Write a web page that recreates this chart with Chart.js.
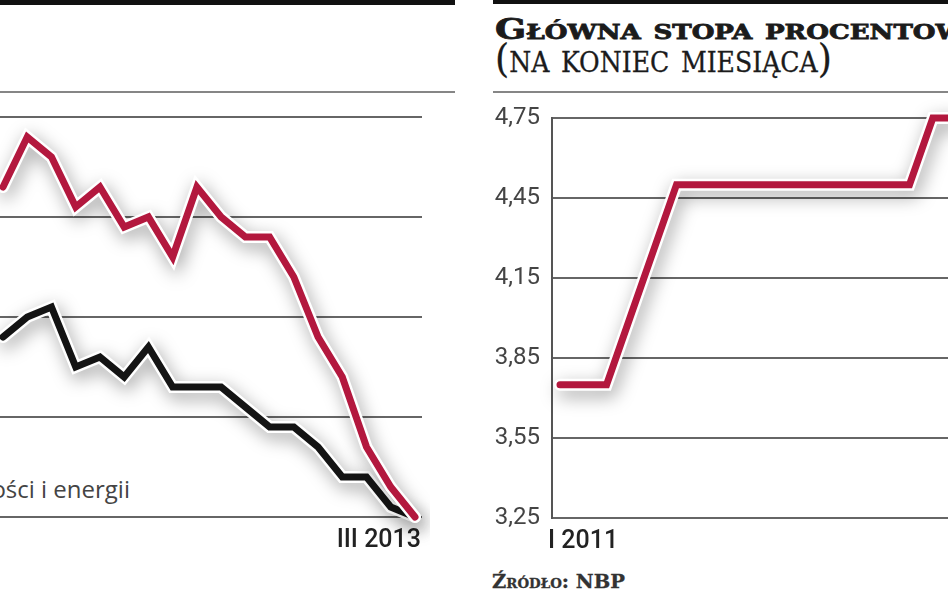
<!DOCTYPE html>
<html lang="pl">
<head>
<meta charset="utf-8">
<title>Inflacja i główna stopa procentowa</title>
<script src="https://cdn.jsdelivr.net/npm/chart.js@4.4.1/dist/chart.umd.min.js"></script>
<style>
  html, body { margin: 0; padding: 0; background: #fff; }
  body { position: relative; width: 948px; height: 593px; overflow: hidden; }
  .bar { position: absolute; top: 0; height: 5px; background: #111; }
  .rule { position: absolute; top: 91px; height: 2px; background: #868686; }
  canvas { position: absolute; }
  .serif { position: absolute; left: 495px; white-space: nowrap; line-height: 1;
           font-family: "DejaVu Serif", "Liberation Serif", serif; font-variant: small-caps;
           color: #1b1b1b; transform-origin: 0 0; }
  #t1 { top: 16px; font-size: 28px; font-weight: bold; -webkit-text-stroke: 0.8px #1b1b1b; }
  #t2 { top: 39px; font-size: 39px; font-weight: normal; -webkit-text-stroke: 0.3px #1b1b1b; }
  #src { left: 492px; top: 572px; font-size: 19px; font-weight: bold; color: #333; -webkit-text-stroke: 0.3px #333; }
  #legend { position: absolute; right: 818px; top: 477px; white-space: nowrap; line-height: 1;
            font-family: "Open Sans", "Noto Sans", sans-serif; font-size: 24px; color: #444; }
</style>
</head>
<body>
<div class="bar" style="left:0; width:455px;"></div>
<div class="rule" style="left:0; width:455px;"></div>
<div class="bar" style="left:493px; width:455px; height:4px;"></div>
<div class="rule" style="left:493px; width:455px;"></div>

<div id="t1" class="serif"><span id="t1a">Główna stopa </span><span>procentowa</span></div>
<div id="t2" class="serif">(na koniec miesiąca)</div>
<div id="src" class="serif">Źródło: NBP</div>
<div id="legend">żywności i energii</div>

<canvas id="inflChart" width="430" height="460" style="left:0; top:100px;"></canvas>
<canvas id="rateChart" width="478" height="470" style="left:470px; top:90px;"></canvas>

<script>
// dane: inflacja (r/r, %) - widoczny fragment X 2011 - III 2013
const inflMonths = ["X 2011", "XI 2011", "XII 2011", "I 2012", "II 2012", "III 2012", "IV 2012",
  "V 2012", "VI 2012", "VII 2012", "VIII 2012", "IX 2012", "X 2012", "XI 2012", "XII 2012",
  "I 2013", "II 2013", "III 2013"];
const cpi = [4.3, 4.8, 4.6, 4.1, 4.3, 3.9, 4.0, 3.6, 4.3, 4.0, 3.8, 3.8, 3.4, 2.8, 2.4, 1.7, 1.3, 1.0];
const core = [2.8, 3.0, 3.1, 2.5, 2.6, 2.4, 2.7, 2.3, 2.3, 2.3, 2.1, 1.9, 1.9, 1.7, 1.4, 1.4, 1.1, 1.0];
const inflTicks = [1, 2, 3, 4, 5];

// dane: główna stopa procentowa NBP (na koniec miesiąca, %)
const rateMonths = ["I 2011", "II 2011", "III 2011", "IV 2011", "V 2011", "VI 2011", "VII 2011",
  "VIII 2011", "IX 2011", "X 2011", "XI 2011", "XII 2011", "I 2012", "II 2012", "III 2012",
  "IV 2012", "V 2012", "VI 2012"];
const rate = [3.75, 3.75, 3.75, 4.00, 4.25, 4.50, 4.50, 4.50, 4.50, 4.50, 4.50, 4.50, 4.50, 4.50, 4.50,
  4.50, 4.75, 4.75];
const rateTicks = [3.25, 3.55, 3.85, 4.15, 4.45, 4.75];
const rateTickLabels = ["3,25", "3,55", "3,85", "4,15", "4,45", "4,75"];

const RED = "#b3183e";
const INK = "#141414";
const GRID = "#666";
const sans = "Roboto, sans-serif";

// dopasowanie szerokości napisów (szeroki krój w oryginale)
function fitWidth(el, measureEl, target) {
  const w = measureEl.getBoundingClientRect().width;
  el.style.transform = "scaleX(" + (target / w) + ")";
}
fitWidth(document.getElementById("t1"), document.getElementById("t1a"), 270);
fitWidth(document.getElementById("t2"), document.getElementById("t2"), 337);
fitWidth(document.getElementById("src"), document.getElementById("src"), 133);

// cień i biała obwódka pod liniami
const haloShadow = {
  id: "haloShadow",
  beforeDatasetDraw(chart, args) {
    if (!chart.data.datasets[args.index].halo) return;
    const ctx = chart.ctx;
    ctx.save();
    ctx.shadowColor = "rgba(0,0,0,0.36)";
    ctx.shadowBlur = 18;
    ctx.shadowOffsetX = 3;
    ctx.shadowOffsetY = 6;
  },
  afterDatasetDraw(chart, args) {
    if (chart.data.datasets[args.index].halo) chart.ctx.restore();
  },
};

const toXY = (arr) => arr.map((v, i) => ({ x: i, y: v }));

function lineSet(values, color, halo) {
  return {
    data: toXY(values),
    borderColor: halo ? "#ffffff" : color,
    borderWidth: halo ? 12 : 7,
    borderCapStyle: "round",
    pointRadius: 0,
    tension: 0,
    clip: false,
    halo: halo,
  };
}

// wykres 1: inflacja
new Chart(document.getElementById("inflChart"), {
  type: "line",
  data: {
    datasets: [
      lineSet(cpi, RED, false),
      lineSet(cpi, RED, true),
      lineSet(core, INK, false),
      lineSet(core, INK, true),
    ],
  },
  options: {
    responsive: false,
    animation: false,
    layout: { padding: { top: 17, right: 8, left: 0, bottom: 0 } },
    plugins: { legend: { display: false }, tooltip: { enabled: false } },
    scales: {
      x: {
        type: "linear",
        min: -0.124,
        max: 17.289,
        grid: { display: false },
        border: { display: false },
        afterBuildTicks: (s) => { s.ticks = [{ value: inflMonths.length - 1 }]; },
        afterFit: (s) => { s.height = 43; },
        ticks: {
          callback: (v) => inflMonths[v],
          align: "end",
          labelOffset: 6,
          padding: 1,
          maxRotation: 0,
          color: "#222",
          font: { family: sans, size: 25, weight: "500" },
        },
      },
      y: {
        min: 1,
        max: 5,
        afterBuildTicks: (s) => { s.ticks = inflTicks.map((v) => ({ value: v })); },
        afterFit: (s) => { s.width = 0; },
        grid: { color: GRID, lineWidth: 2, drawTicks: false },
        border: { display: false },
        ticks: { display: false },
      },
    },
  },
  plugins: [haloShadow],
});

// wykres 2: główna stopa procentowa
new Chart(document.getElementById("rateChart"), {
  type: "line",
  data: {
    datasets: [lineSet(rate, RED, false), lineSet(rate, RED, true)],
  },
  options: {
    responsive: false,
    animation: false,
    layout: { padding: { top: 28, right: 0, left: 0, bottom: 0 } },
    plugins: { legend: { display: false }, tooltip: { enabled: false } },
    scales: {
      x: {
        type: "linear",
        min: -0.343,
        max: 16.652,
        grid: { display: false },
        border: { display: false },
        afterBuildTicks: (s) => { s.ticks = [{ value: 0 }]; },
        afterFit: (s) => { s.height = 42; },
        ticks: {
          callback: (v) => rateMonths[v],
          align: "start",
          labelOffset: -12,
          padding: 1,
          maxRotation: 0,
          color: "#222",
          font: { family: sans, size: 25, weight: "500" },
        },
      },
      y: {
        min: 3.25,
        max: 4.75,
        afterBuildTicks: (s) => { s.ticks = rateTicks.map((v) => ({ value: v })); },
        afterFit: (s) => { s.width = 82; },
        grid: { color: GRID, lineWidth: 2, drawTicks: false },
        border: { display: true, color: "#555", width: 2 },
        ticks: {
          callback: (v) => rateTickLabels[rateTicks.indexOf(v)],
          padding: 12,
          color: "#444",
          font: { family: sans, size: 24 },
        },
      },
    },
  },
  plugins: [haloShadow],
});
</script>
</body>
</html>
